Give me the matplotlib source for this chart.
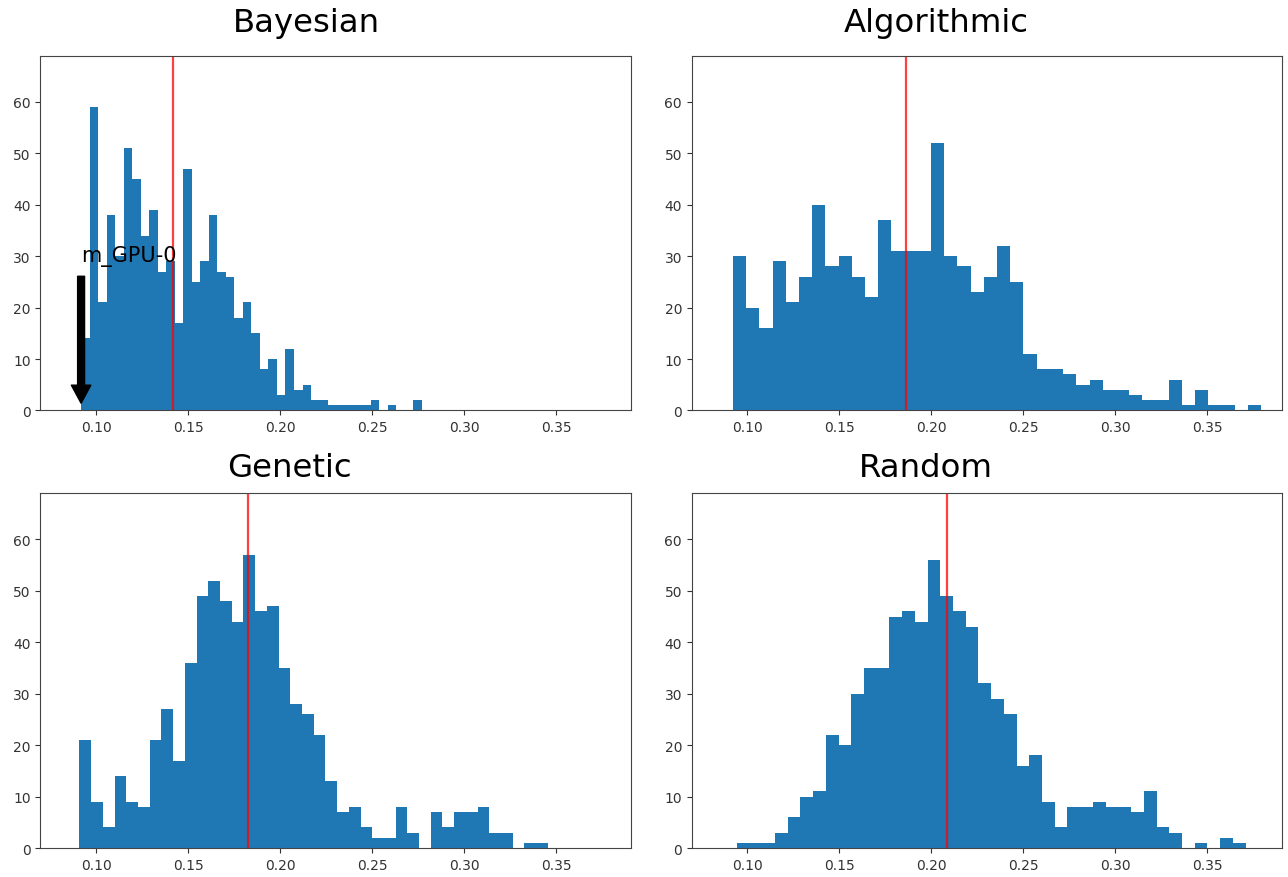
import numpy as np
import matplotlib
matplotlib.use("Agg")
import matplotlib.pyplot as plt

# ---------------- data ----------------
titles = ["Bayesian", "Algorithmic", "Genetic", "Random"]

bayesian_counts = [14, 59, 21, 38, 30, 51, 45, 34, 39, 27, 29, 17, 47, 25, 29, 38, 27, 26, 18, 21,
                   15, 8, 10, 3, 12, 4, 5, 2, 2, 1, 1, 1, 1, 1, 2, 0, 1, 0, 0, 2]
algorithmic_counts = [30, 20, 16, 29, 21, 26, 40, 28, 30, 26, 22, 37, 31, 31, 31, 52, 30, 28, 23, 26,
                      32, 25, 11, 8, 8, 7, 5, 6, 4, 4, 3, 2, 2, 6, 1, 4, 1, 1, 0, 1]
genetic_counts = [21, 9, 4, 14, 9, 8, 21, 27, 17, 36, 49, 52, 48, 44, 57, 46, 47, 35, 28, 26,
                  22, 13, 7, 8, 4, 2, 2, 8, 3, 0, 7, 4, 7, 7, 8, 3, 3, 0, 1, 1]
random_counts = [1, 1, 1, 3, 6, 10, 11, 22, 20, 30, 35, 35, 45, 46, 44, 56, 49, 46, 43, 32,
                 29, 26, 16, 18, 9, 4, 8, 8, 9, 8, 8, 7, 11, 4, 3, 0, 1, 0, 2, 1]

bayesian_range = (0.0918, 0.2770)
algorithmic_range = (0.0921, 0.3793)
genetic_range = (0.0909, 0.3456)
random_range = (0.0942, 0.3708)

n_bins = 40
mean_lines = [0.1420, 0.1860, 0.1826, 0.2083]

annotation_label = "m_GPU-0"
annotation_point = (0.0918, 0)
annotation_text_pos = (0.0918, 29)

x_ticks = [0.10, 0.15, 0.20, 0.25, 0.30, 0.35]
y_ticks = [0, 10, 20, 30, 40, 50, 60]
x_limits = (0.0697, 0.3908)
y_limits = (0, 69)

all_counts = [bayesian_counts, algorithmic_counts, genetic_counts, random_counts]
all_ranges = [bayesian_range, algorithmic_range, genetic_range, random_range]

# ---------------- figure ----------------
fig = plt.figure(figsize=(12.88, 8.78), dpi=100)
fig.subplots_adjust(left=0.0314, right=0.9956, bottom=0.0330, top=0.9356,
                    wspace=0.1028, hspace=0.233)
axes = fig.subplots(2, 2)

title_pads = [17.5, 17.5, 12.5, 12.5]
title_x = [0.450, 0.4145, 0.4215, 0.397]

for i, ax in enumerate(axes.flat):
    counts = np.array(all_counts[i], dtype=float)
    lo, hi = all_ranges[i]
    edges = np.linspace(lo, hi, n_bins + 1)
    centers = (edges[:-1] + edges[1:]) / 2
    ax.hist(centers, bins=edges, weights=counts, color="#1f77b4")
    ax.axvline(mean_lines[i], color="red", alpha=0.75, linewidth=1.6)
    ax.set_xlim(*x_limits)
    ax.set_ylim(*y_limits)
    ax.set_xticks(x_ticks)
    ax.set_xticklabels([f"{t:.2f}" for t in x_ticks])
    ax.set_yticks(y_ticks)
    ax.tick_params(labelsize=10, colors="#333333")
    for sp in ax.spines.values():
        sp.set_color("#444444")
    ax.set_title(titles[i], fontsize=23.3, pad=title_pads[i], x=title_x[i])

axes[0, 0].annotate(annotation_label, xy=annotation_point, xytext=annotation_text_pos,
                    fontsize=15,
                    arrowprops=dict(facecolor="black", shrink=0.05, width=5,
                                    headwidth=14, headlength=13))

fig.savefig("out.png", dpi=100)
